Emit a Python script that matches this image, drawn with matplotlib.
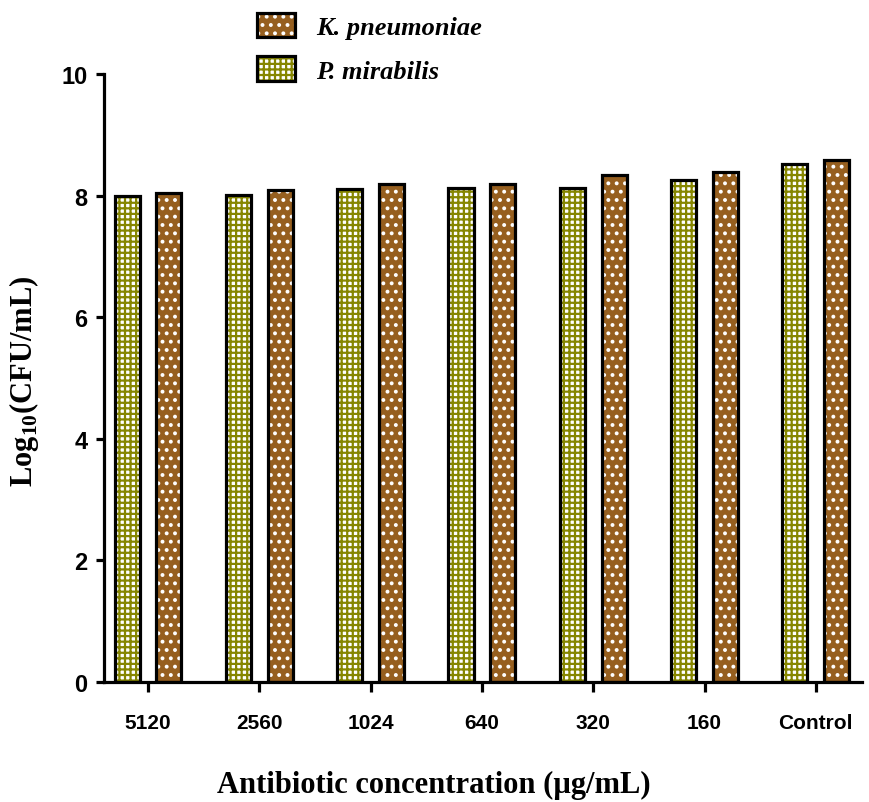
import numpy as np
import matplotlib.pyplot as plt
from matplotlib.patches import Patch

# data
concentrations = ["5120", "2560", "1024", "640", "320", "160", "Control"]
p_mirabilis = [7.99, 8.01, 8.11, 8.12, 8.12, 8.25, 8.52]
k_pneumoniae = [8.05, 8.09, 8.19, 8.19, 8.34, 8.39, 8.59]

plt.rcParams["mathtext.fontset"] = "custom"
plt.rcParams["mathtext.rm"] = "Liberation Serif:bold"
plt.rcParams["mathtext.bf"] = "Liberation Serif:bold"
plt.rcParams["hatch.linewidth"] = 1.6

olive = "#868600"
brown = "#965f1f"

fig = plt.figure(figsize=(8.69, 8.03), dpi=100)
ax = fig.add_axes([0.1197, 0.1494, 0.8723, 0.7572])

x = np.arange(len(concentrations))
offset = 0.188
width = 0.225

# fill + hatch, then black outline on top
ax.bar(x - offset, p_mirabilis, width, color="white", edgecolor=olive, hatch="+++", linewidth=0)
ax.bar(x + offset, k_pneumoniae, width, color=brown, edgecolor="white", hatch="..", linewidth=0)
ax.bar(x - offset, p_mirabilis, width, fill=False, edgecolor="black", linewidth=2.3)
ax.bar(x + offset, k_pneumoniae, width, fill=False, edgecolor="black", linewidth=2.3)

ax.set_xlim(-0.395, 6.415)
ax.set_ylim(0, 10)
ax.set_yticks([0, 2, 4, 6, 8, 10])
ax.set_xticks(x)
ax.set_xticklabels(concentrations)

for side in ["top", "right"]:
    ax.spines[side].set_visible(False)
for side in ["left", "bottom"]:
    ax.spines[side].set_linewidth(2.3)

ax.tick_params(axis="y", length=6, width=2.3, pad=6, labelsize=17)
ax.tick_params(axis="x", length=7, width=2.3, pad=15, labelsize=15)
for lbl in ax.get_xticklabels() + ax.get_yticklabels():
    lbl.set_fontfamily("Liberation Sans")
    lbl.set_fontweight("bold")

fig.text(434 / 869, 1 - 785 / 803, "Antibiotic concentration (µg/mL)", ha="center", va="center",
         fontsize=22, fontweight="bold", family="Liberation Serif")
fig.text(0.028, 1 - 381 / 803, r"Log$_{\mathbf{10}}$(CFU/mL)", rotation=90, ha="center", va="center",
         fontsize=22, fontweight="bold", family="Liberation Serif")

outline = dict(fill=False, edgecolor="black", linewidth=2.3)
handles = [
    (Patch(facecolor=brown, edgecolor="white", hatch="..", linewidth=0), Patch(**outline)),
    (Patch(facecolor="white", edgecolor=olive, hatch="+++", linewidth=0), Patch(**outline)),
]
fig.legend(handles, ["K. pneumoniae", "P. mirabilis"], loc="upper left",
           bbox_to_anchor=(257 / 869, 1 - 14 / 803), frameon=False, borderpad=0,
           borderaxespad=0, handlelength=1.45, handleheight=1.05, handletextpad=0.8,
           labelspacing=0.65,
           prop={"family": "Liberation Serif", "weight": "bold", "style": "italic", "size": 19})

fig.savefig("out.png", dpi=100)
